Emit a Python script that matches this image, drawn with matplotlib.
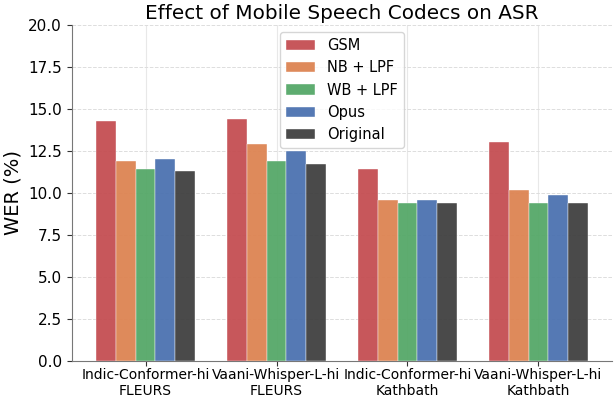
import numpy as np
import matplotlib.pyplot as plt

models = ["Indic-Conformer-hi\nFLEURS", "Vaani-Whisper-L-hi\nFLEURS",
          "Indic-Conformer-hi\nKathbath", "Vaani-Whisper-L-hi\nKathbath"]
codecs = ["GSM", "NB + LPF", "WB + LPF", "Opus", "Original"]

gsm = [14.3, 14.4, 11.4, 13.0]
nb_lpf = [11.9, 12.9, 9.6, 10.2]
wb_lpf = [11.4, 11.9, 9.4, 9.4]
opus = [12.0, 12.5, 9.6, 9.9]
original = [11.3, 11.7, 9.4, 9.4]

colors = ["#C44E52", "#DD8452", "#55A868", "#4C72B0", "#404040"]

fig, ax = plt.subplots(figsize=(6.14, 4.01), dpi=100)
fig.subplots_adjust(left=0.117, right=0.997, top=0.938, bottom=0.1)

x = np.arange(len(models))
width = 0.15
for i, (name, vals) in enumerate(zip(codecs, [gsm, nb_lpf, wb_lpf, opus, original])):
    ax.bar(x + (i - 2) * width, vals, width, label=name, color=colors[i],
           alpha=0.95, edgecolor="white", linewidth=0.3, zorder=3)

ax.set_ylim(0, 20)
ax.set_yticks(np.arange(0, 20.1, 2.5))
ax.set_xticks(x)
ax.set_xticklabels(models, fontsize=10)
ax.tick_params(axis="x", pad=1.5)
ax.tick_params(axis="y", labelsize=11)
ax.set_ylabel("WER (%)", fontsize=14)
ax.set_title("Effect of Mobile Speech Codecs on ASR", fontsize=14.4, pad=4)

ax.grid(axis="y", linestyle="--", color="#dddddd", linewidth=0.7, zorder=0)
ax.grid(axis="x", linestyle="-", color="#e8e8e8", linewidth=0.8, zorder=0)
ax.spines["top"].set_visible(False)
ax.spines["right"].set_visible(False)
ax.spines["left"].set_color("#777777")
ax.spines["bottom"].set_color("#777777")
ax.tick_params(colors="#333333", labelcolor="black")

ax.legend(loc="upper center", fontsize=10.5, frameon=True)

fig.savefig("out.png")
